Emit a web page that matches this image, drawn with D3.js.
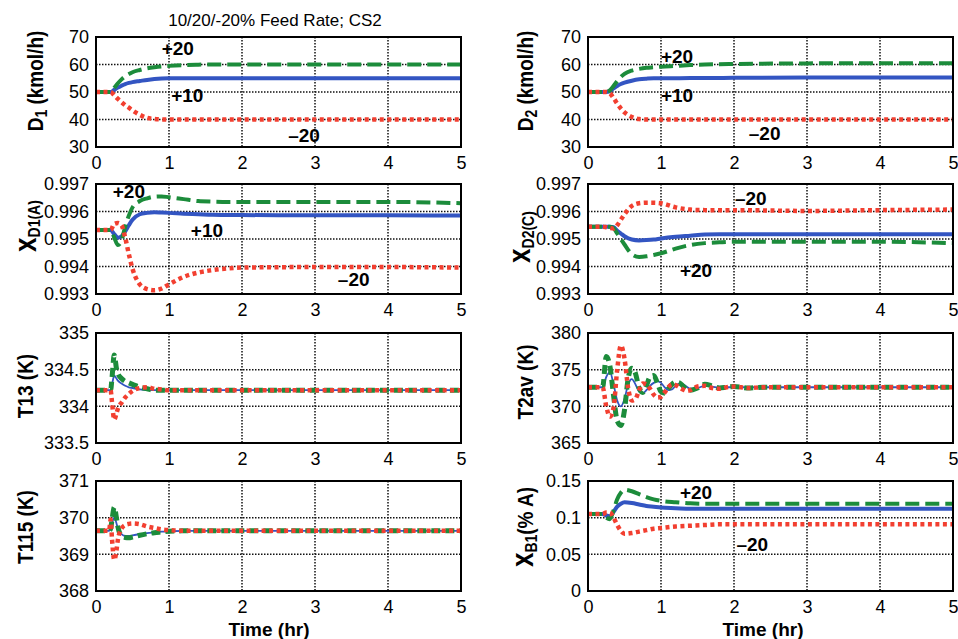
<!DOCTYPE html>
<html><head><meta charset="utf-8">
<script src="https://cdn.jsdelivr.net/npm/d3@7"></script>
<style>
body{margin:0;background:#fff}
svg{display:block}
text{font-family:"Liberation Sans",Arial,Helvetica,sans-serif;fill:#000}
</style>
</head><body>
<svg id="chart" width="958" height="639"></svg>
<script>
// ---------- data ----------
const xTicks = [0, 1, 2, 3, 4, 5];
const seriesNames = ["+10", "+20", "-20"];

const timeSmooth = [0, 0.2, 0.25, 0.3, 0.35, 0.4, 0.45, 0.5, 0.6, 0.7, 0.8, 0.9, 1.0, 1.2, 1.4, 1.6, 1.8, 2.0, 3.0, 4.0, 5.0];
const timeFast = [0, 0.18, 0.2, 0.22, 0.25, 0.28, 0.3, 0.35, 0.4, 0.45, 0.5, 0.6, 0.7, 0.8, 0.9, 1.0, 1.2, 1.5, 2, 3, 4, 5];
const timeOsc = [0, 0.2, 0.25, 0.3, 0.35, 0.4, 0.45, 0.5, 0.55, 0.6, 0.65, 0.7, 0.75, 0.8, 0.85, 0.9, 0.95, 1.0, 1.05, 1.1, 1.15, 1.2, 1.25, 1.3, 1.35, 1.4, 1.5, 1.6, 1.7, 1.8, 1.9, 2.0, 2.2, 2.4, 3, 4, 5];

// D1 (kmol/h)
const d1Ticks = [30, 40, 50, 60, 70];
const d1Plus20 = [50, 50, 51.5, 53.2, 54.6, 55.7, 56.5, 57.2, 58.0, 58.6, 59.0, 59.3, 59.5, 59.8, 59.95, 60, 60, 60, 60, 60, 60];
const d1Plus10 = [50, 50, 50.8, 51.6, 52.3, 52.9, 53.3, 53.6, 54.0, 54.4, 54.7, 54.9, 55.0, 55, 55, 55, 55, 55, 55, 55, 55];
const d1Minus20 = [50, 50, 48.8, 47.5, 46.3, 45.2, 44.3, 43.3, 41.7, 40.6, 40.2, 40.05, 40, 40, 40, 40, 40, 40, 40, 40, 40];

// D2 (kmol/h)
const d2Ticks = [30, 40, 50, 60, 70];
const d2Plus20 = [50, 50, 50, 50.6, 52.2, 54.0, 55.5, 56.6, 57.8, 58.4, 58.8, 59.0, 59.2, 59.5, 59.8, 60.0, 60.1, 60.2, 60.4, 60.5, 60.5];
const d2Plus10 = [50, 50, 50, 50.4, 51.3, 52.2, 52.9, 53.4, 54.1, 54.6, 54.85, 55.0, 55.0, 55.0, 55.05, 55.1, 55.1, 55.15, 55.25, 55.3, 55.3];
const d2Minus20 = [50, 50, 50, 49.5, 47.8, 45.8, 44.0, 42.6, 40.9, 40.15, 40, 40, 40, 40, 40, 40, 40, 40, 40, 40, 40];

// xD1(A)
const xd1Ticks = [0.993, 0.994, 0.995, 0.996, 0.997];
const xd1Plus20 = [0.99533, 0.99533, 0.99505, 0.99478, 0.99495, 0.99545, 0.99585, 0.99615, 0.99638, 0.99648, 0.99654, 0.99655, 0.99652, 0.99645, 0.99638, 0.99636, 0.99635, 0.99635, 0.99635, 0.99635, 0.99630];
const xd1Plus10 = [0.99533, 0.99533, 0.99518, 0.99505, 0.99510, 0.99528, 0.99550, 0.99570, 0.99590, 0.99595, 0.99597, 0.99596, 0.99595, 0.99592, 0.99590, 0.99588, 0.99587, 0.99587, 0.99586, 0.99586, 0.99585];
const xd1Minus20 = [0.99533, 0.99533, 0.99555, 0.99558, 0.99550, 0.99505, 0.99445, 0.99392, 0.99335, 0.99318, 0.99314, 0.99320, 0.99335, 0.99362, 0.99378, 0.99387, 0.99393, 0.99396, 0.99398, 0.99398, 0.99396];

// xD2(C)
const xd2Ticks = [0.993, 0.994, 0.995, 0.996, 0.997];
const xd2Plus20 = [0.99545, 0.99545, 0.99545, 0.99545, 0.99540, 0.99520, 0.99500, 0.99480, 0.99445, 0.99435, 0.99437, 0.99442, 0.99448, 0.99465, 0.99478, 0.99485, 0.99488, 0.99490, 0.99490, 0.99490, 0.99485];
const xd2Plus10 = [0.99545, 0.99545, 0.99545, 0.99545, 0.99543, 0.99530, 0.99520, 0.99510, 0.99498, 0.99495, 0.99496, 0.99498, 0.99502, 0.99508, 0.99512, 0.99516, 0.99517, 0.99517, 0.99517, 0.99517, 0.99517];
const xd2Minus20 = [0.99545, 0.99545, 0.99543, 0.99540, 0.99538, 0.99550, 0.99570, 0.99590, 0.99620, 0.99630, 0.99632, 0.99632, 0.99630, 0.99615, 0.99607, 0.99605, 0.99605, 0.99605, 0.99602, 0.99605, 0.99607];

// T13 (K)
const t13Ticks = [333.5, 334, 334.5, 335];
const t13Plus20 = [334.22, 334.22, 334.22, 334.4, 334.70, 334.52, 334.45, 334.38, 334.34, 334.32, 334.30, 334.26, 334.24, 334.22, 334.22, 334.22, 334.22, 334.22, 334.22, 334.22, 334.22, 334.22];
const t13Plus10 = [334.22, 334.22, 334.22, 334.3, 334.42, 334.38, 334.35, 334.31, 334.28, 334.26, 334.25, 334.23, 334.22, 334.22, 334.22, 334.22, 334.22, 334.22, 334.22, 334.22, 334.22, 334.22];
const t13Minus20 = [334.22, 334.22, 334.22, 334.05, 333.82, 333.9, 333.97, 334.05, 334.12, 334.17, 334.21, 334.25, 334.26, 334.24, 334.23, 334.22, 334.22, 334.22, 334.22, 334.22, 334.22, 334.22];

// T2av (K)
const t2Ticks = [365, 370, 375, 380];
const t2Plus20 = [372.6, 372.6, 376.8, 375.5, 371.5, 368.0, 367.4, 369.5, 373.8, 375.2, 374.5, 372.5, 371.9, 372.8, 374.0, 374.2, 373.2, 372.0, 371.8, 372.4, 373.0, 373.3, 373.2, 372.8, 372.3, 372.2, 372.5, 373.0, 372.8, 372.5, 372.6, 372.7, 372.5, 372.6, 372.6, 372.6, 372.6];
const t2Plus10 = [372.6, 372.6, 374.0, 374.7, 373.0, 370.8, 370.0, 371.0, 373.0, 373.7, 373.0, 372.0, 371.8, 372.2, 372.8, 373.2, 373.4, 373.2, 372.6, 372.2, 372.3, 372.8, 373.1, 373.0, 372.7, 372.4, 372.5, 372.8, 372.7, 372.5, 372.6, 372.6, 372.6, 372.6, 372.6, 372.6, 372.6];
const t2Minus20 = [372.6, 372.6, 370.0, 368.6, 369.8, 375.0, 378.3, 376.5, 372.5, 370.8, 371.0, 372.2, 373.1, 373.0, 372.4, 371.6, 371.2, 371.3, 371.9, 372.6, 373.0, 372.9, 372.6, 372.3, 372.1, 372.2, 372.7, 372.8, 372.5, 372.4, 372.6, 372.7, 372.5, 372.6, 372.6, 372.6, 372.6];

// T115 (K)
const t115Ticks = [368, 369, 370, 371];
const t115Plus20 = [369.64, 369.64, 369.7, 369.95, 370.28, 370.0, 369.75, 369.5, 369.46, 369.45, 369.47, 369.52, 369.56, 369.59, 369.61, 369.63, 369.64, 369.64, 369.64, 369.64, 369.64, 369.64];
const t115Plus10 = [369.64, 369.64, 369.7, 369.85, 370.0, 369.85, 369.7, 369.55, 369.5, 369.5, 369.52, 369.55, 369.58, 369.6, 369.62, 369.63, 369.64, 369.64, 369.64, 369.64, 369.64, 369.64];
const t115Minus20 = [369.64, 369.64, 369.95, 369.4, 368.85, 369.1, 369.4, 369.7, 369.8, 369.83, 369.84, 369.82, 369.76, 369.72, 369.68, 369.66, 369.64, 369.64, 369.64, 369.64, 369.64, 369.64];

// xB1 (% A)
const xb1Ticks = [0, 0.05, 0.1, 0.15];
const xb1Plus20 = [0.105, 0.105, 0.100, 0.098, 0.110, 0.125, 0.134, 0.138, 0.136, 0.132, 0.128, 0.125, 0.123, 0.121, 0.1195, 0.119, 0.119, 0.119, 0.119, 0.119, 0.119];
const xb1Plus10 = [0.105, 0.105, 0.103, 0.102, 0.108, 0.115, 0.119, 0.121, 0.120, 0.118, 0.116, 0.115, 0.114, 0.113, 0.112, 0.112, 0.112, 0.112, 0.112, 0.112, 0.112];
const xb1Minus20 = [0.105, 0.105, 0.107, 0.107, 0.100, 0.090, 0.082, 0.078, 0.079, 0.081, 0.083, 0.085, 0.086, 0.088, 0.089, 0.090, 0.091, 0.091, 0.091, 0.091, 0.091];

// ---------- layout & style ----------
const colLeft = [96, 588];
const plotW = 365;
const rowTop = [37, 184, 333, 481];
const plotH = 110;
const colors = {"+10": "#3355c2", "+20": "#1c8c3b", "-20": "#f23f30"};

const panels = [
  {col:0,row:0,time:timeSmooth,data:[d1Plus10,d1Plus20,d1Minus20],ticks:d1Ticks,thin:false,
   label:[["D",0],["1",1],[" (kmol/h)",0]],labelX:43,labelY:81,
   notes:[["+20",1.12,63.5],["+10",1.25,46.4],["\u201320",2.85,31.9]]},
  {col:1,row:0,time:timeSmooth,data:[d2Plus10,d2Plus20,d2Minus20],ticks:d2Ticks,thin:false,
   label:[["D",0],["2",1],[" (kmol/h)",0]],labelX:533,labelY:81,
   notes:[["+20",1.22,60.4],["+10",1.22,46.5],["\u201320",2.42,32.5]]},
  {col:0,row:1,time:timeSmooth,data:[xd1Plus10,xd1Plus20,xd1Minus20],ticks:xd1Ticks,thin:false,
   label:[["x",2],["D1(A)",1]],labelX:36,labelY:226,
   notes:[["+20",0.45,0.99649],["+10",1.52,0.99506],["\u201320",3.53,0.99328]]},
  {col:1,row:1,time:timeSmooth,data:[xd2Plus10,xd2Plus20,xd2Minus20],ticks:xd2Ticks,thin:false,
   label:[["x",2],["D2(C)",1]],labelX:530,labelY:237,
   notes:[["\u201320",2.23,0.99625],["+20",1.48,0.99363]]},
  {col:0,row:2,time:timeFast,data:[t13Plus10,t13Plus20,t13Minus20],ticks:t13Ticks,thin:true,
   label:[["T13 (K)",0]],labelX:33,labelY:386,notes:[]},
  {col:1,row:2,time:timeOsc,data:[t2Plus10,t2Plus20,t2Minus20],ticks:t2Ticks,thin:true,
   label:[["T2av (K)",0]],labelX:533,labelY:382,notes:[]},
  {col:0,row:3,time:timeFast,data:[t115Plus10,t115Plus20,t115Minus20],ticks:t115Ticks,thin:true,
   label:[["T115 (K)",0]],labelX:33,labelY:527,notes:[]},
  {col:1,row:3,time:timeSmooth,data:[xb1Plus10,xb1Plus20,xb1Minus20],ticks:xb1Ticks,thin:false,
   label:[["x",2],["B1",1],["(% A)",0]],labelX:533,labelY:527,
   notes:[["+20",1.48,0.1255],["\u201320",2.25,0.054]]}
];

const svg = d3.select("#chart");

panels.forEach((p, i) => {
  const left = colLeft[p.col], top = rowTop[p.row];
  const x = d3.scaleLinear().domain([0, 5]).range([left, left + plotW]);
  const y = d3.scaleLinear().domain(d3.extent(p.ticks)).range([top + plotH, top]);
  const g = svg.append("g");

  g.append("clipPath").attr("id", "clip" + i)
    .append("rect").attr("x", left).attr("y", top).attr("width", plotW).attr("height", plotH);

  // grid
  g.selectAll(".gx").data(xTicks.slice(1, -1)).join("line")
    .attr("x1", d => x(d)).attr("x2", d => x(d)).attr("y1", top).attr("y2", top + plotH)
    .attr("stroke", "#111").attr("stroke-width", 1.5).attr("stroke-dasharray", "1.5,1.5");
  g.selectAll(".gy").data(p.ticks.slice(1, -1)).join("line")
    .attr("x1", left).attr("x2", left + plotW).attr("y1", d => y(d)).attr("y2", d => y(d))
    .attr("stroke", "#111").attr("stroke-width", 1.5).attr("stroke-dasharray", "1.5,1.5");

  // lines
  const lg = g.append("g").attr("clip-path", `url(#clip${i})`);
  const line = d3.line().x(d => x(d[0])).y(d => y(d[1])).curve(d3.curveMonotoneX);
  seriesNames.forEach((name, k) => {
    const pts = p.time.map((t, j) => [t, p.data[k][j]]);
    const path = lg.append("path").datum(pts).attr("d", line)
      .attr("fill", "none").attr("stroke", colors[name]);
    if (name === "+10") {
      path.attr("stroke-width", p.thin ? 1.8 : 4);
    } else if (name === "+20") {
      path.attr("stroke-width", p.thin ? 5 : 4).attr("stroke-dasharray", p.thin ? "9,5" : "14,6");
    } else {
      path.attr("stroke-width", 4.5).attr("stroke-dasharray", "4,3.5");
    }
  });

  // frame
  g.append("rect").attr("x", left).attr("y", top).attr("width", plotW).attr("height", plotH)
    .attr("fill", "none").attr("stroke", "#000").attr("stroke-width", 2);

  // y axis
  const ya = d3.axisLeft(y).tickValues(p.ticks).tickSize(0).tickPadding(7).tickFormat(d => String(d));
  const yg = g.append("g").attr("transform", `translate(${left},0)`).call(ya);
  yg.select(".domain").remove();
  yg.selectAll("text").attr("font-size", 18).attr("fill", "#000")
    .style("font-family", '"Liberation Sans",Arial,sans-serif');

  // x axis
  const xa = d3.axisBottom(x).tickValues(xTicks).tickSize(0).tickPadding(9).tickFormat(d3.format("d"));
  const xg = g.append("g").attr("transform", `translate(0,${top + plotH})`).call(xa);
  xg.select(".domain").remove();
  xg.selectAll("text").attr("font-size", 18).attr("fill", "#000")
    .style("font-family", '"Liberation Sans",Arial,sans-serif');

  // annotations
  g.selectAll(".note").data(p.notes).join("text")
    .attr("x", d => x(d[1])).attr("y", d => y(d[2]))
    .attr("text-anchor", "middle").attr("font-size", 19).attr("font-weight", "bold")
    .text(d => d[0]);

  // y label
  const lab = g.append("text")
    .attr("transform", `translate(${p.labelX},${p.labelY}) rotate(-90) scale(1,1.2)`)
    .attr("text-anchor", "middle").attr("font-weight", "bold").attr("font-size", 19);
  p.label.forEach(([txt, kind]) => {
    const ts = lab.append("tspan").text(txt);
    if (kind === 1) ts.attr("font-size", 14).attr("baseline-shift", "-4");
    if (kind === 2) ts.attr("font-size", 26);
  });
});

// x axis titles
[0, 1].forEach(c => {
  svg.append("text").attr("x", c === 0 ? 269 : 763).attr("y", 636)
    .attr("text-anchor", "middle").attr("font-size", 19).attr("font-weight", "bold")
    .text("Time (hr)");
});

// title
svg.append("text").attr("x", 275).attr("y", 26).attr("text-anchor", "middle")
  .attr("font-size", 17).text("10/20/-20% Feed Rate; CS2");
</script>
</body></html>
